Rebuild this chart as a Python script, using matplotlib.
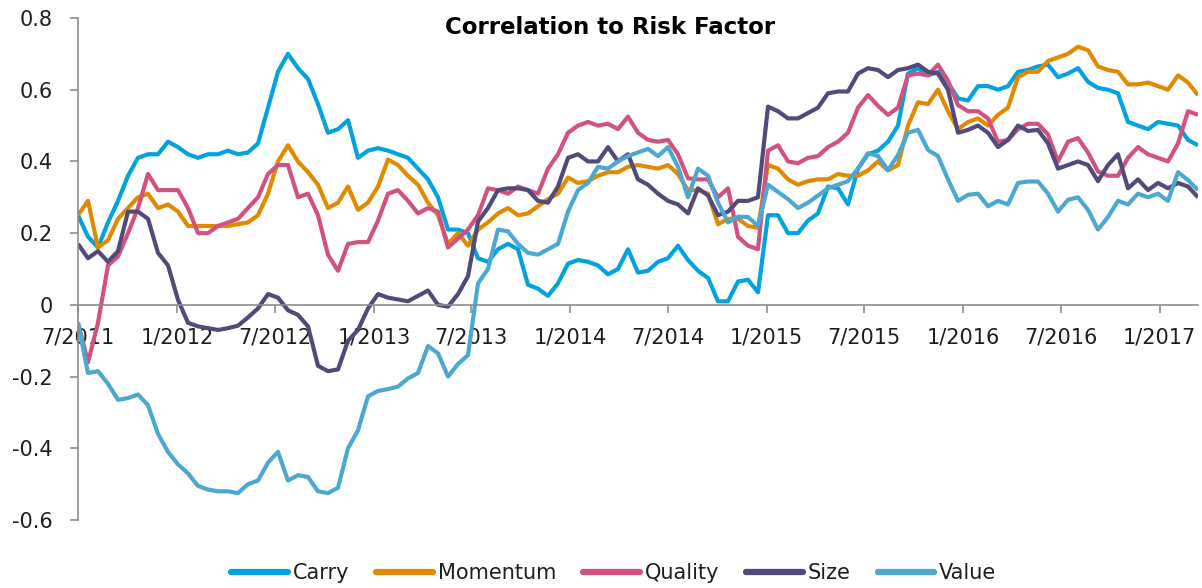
import numpy as np
import pandas as pd
import matplotlib
matplotlib.use("Agg")
import matplotlib.pyplot as plt
import matplotlib.dates as mdates
from matplotlib.ticker import FuncFormatter, FixedLocator

plt.rcParams['axes.unicode_minus'] = False
plt.rcParams['font.family'] = ['DejaVu Sans']

# ---- data ----
start_date = "2011-07-01"
end_date = "2017-03-13"

carry = [0.25, 0.19, 0.16, 0.23, 0.29, 0.36, 0.41, 0.42, 0.42, 0.455,
         0.44, 0.42, 0.41, 0.42, 0.42, 0.43, 0.42, 0.425, 0.45, 0.55,
         0.65, 0.70, 0.66, 0.63, 0.56, 0.48, 0.49, 0.515, 0.41, 0.43,
         0.437, 0.43, 0.42, 0.41, 0.38, 0.35, 0.30, 0.21, 0.21, 0.20,
         0.13, 0.12, 0.155, 0.17, 0.155, 0.056, 0.045, 0.025, 0.06, 0.115,
         0.125, 0.12, 0.11, 0.085, 0.10, 0.155, 0.09, 0.095, 0.12, 0.13,
         0.165, 0.125, 0.095, 0.075, 0.01, 0.01, 0.065, 0.07, 0.035, 0.25,
         0.25, 0.20, 0.20, 0.235, 0.255, 0.33, 0.325, 0.28, 0.38, 0.42,
         0.43, 0.455, 0.50, 0.645, 0.66, 0.64, 0.65, 0.62, 0.576, 0.57,
         0.61, 0.61, 0.60, 0.61, 0.65, 0.655, 0.665, 0.67, 0.635, 0.645,
         0.66, 0.622, 0.605, 0.60, 0.59, 0.51, 0.50, 0.49, 0.51, 0.505,
         0.50, 0.46, 0.445]

momentum = [0.25, 0.29, 0.16, 0.18, 0.24, 0.27, 0.30, 0.31, 0.27, 0.28,
            0.26, 0.22, 0.22, 0.22, 0.22, 0.22, 0.225, 0.23, 0.25, 0.31,
            0.40, 0.445, 0.40, 0.37, 0.335, 0.27, 0.285, 0.33, 0.265, 0.285,
            0.33, 0.405, 0.39, 0.36, 0.335, 0.285, 0.25, 0.17, 0.20, 0.165,
            0.21, 0.23, 0.255, 0.27, 0.25, 0.255, 0.275, 0.295, 0.31, 0.355,
            0.34, 0.345, 0.36, 0.37, 0.37, 0.385, 0.39, 0.385, 0.38, 0.39,
            0.365, 0.32, 0.32, 0.31, 0.225, 0.24, 0.24, 0.22, 0.215, 0.39,
            0.38, 0.35, 0.335, 0.345, 0.35, 0.35, 0.365, 0.36, 0.36, 0.375,
            0.40, 0.375, 0.39, 0.50, 0.565, 0.56, 0.60, 0.54, 0.49, 0.51,
            0.52, 0.50, 0.53, 0.55, 0.635, 0.65, 0.65, 0.68, 0.69, 0.70,
            0.72, 0.71, 0.665, 0.655, 0.65, 0.615, 0.615, 0.62, 0.61, 0.60,
            0.64, 0.62, 0.585]

quality = [-0.05, -0.16, -0.05, 0.11, 0.135, 0.20, 0.27, 0.365, 0.32, 0.32,
           0.32, 0.27, 0.20, 0.20, 0.22, 0.23, 0.24, 0.27, 0.30, 0.365,
           0.39, 0.39, 0.30, 0.31, 0.25, 0.14, 0.095, 0.17, 0.175, 0.175,
           0.235, 0.31, 0.32, 0.29, 0.255, 0.27, 0.26, 0.16, 0.185, 0.21,
           0.25, 0.325, 0.32, 0.31, 0.33, 0.32, 0.31, 0.38, 0.42, 0.48,
           0.50, 0.51, 0.50, 0.505, 0.49, 0.525, 0.48, 0.46, 0.455, 0.46,
           0.42, 0.353, 0.35, 0.35, 0.30, 0.325, 0.19, 0.165, 0.155, 0.43,
           0.445, 0.40, 0.395, 0.41, 0.415, 0.44, 0.455, 0.48, 0.55, 0.585,
           0.555, 0.53, 0.55, 0.64, 0.645, 0.64, 0.67, 0.625, 0.557, 0.54,
           0.54, 0.52, 0.455, 0.46, 0.49, 0.505, 0.505, 0.475, 0.40, 0.455,
           0.465, 0.425, 0.372, 0.36, 0.36, 0.41, 0.44, 0.42, 0.41, 0.40,
           0.45, 0.54, 0.53]

size = [0.17, 0.13, 0.15, 0.12, 0.15, 0.26, 0.26, 0.24, 0.145, 0.11,
        0.014, -0.05, -0.06, -0.065, -0.07, -0.065, -0.058, -0.035, -0.01, 0.03,
        0.02, -0.015, -0.028, -0.06, -0.17, -0.185, -0.18, -0.10, -0.07, -0.01,
        0.03, 0.02, 0.015, 0.01, 0.025, 0.04, 0.0, -0.005, 0.03, 0.08,
        0.232, 0.27, 0.32, 0.325, 0.325, 0.32, 0.29, 0.285, 0.33, 0.41,
        0.42, 0.40, 0.40, 0.44, 0.40, 0.42, 0.35, 0.335, 0.31, 0.29,
        0.28, 0.255, 0.325, 0.305, 0.25, 0.26, 0.29, 0.29, 0.30, 0.553,
        0.54, 0.52, 0.52, 0.535, 0.55, 0.59, 0.595, 0.595, 0.645, 0.66,
        0.655, 0.635, 0.655, 0.66, 0.67, 0.65, 0.645, 0.60, 0.48, 0.488,
        0.50, 0.48, 0.44, 0.46, 0.50, 0.485, 0.488, 0.45, 0.38, 0.39,
        0.40, 0.39, 0.345, 0.39, 0.42, 0.325, 0.35, 0.32, 0.34, 0.325,
        0.34, 0.33, 0.30]

value = [-0.05, -0.19, -0.185, -0.22, -0.265, -0.26, -0.25, -0.28, -0.36, -0.41,
         -0.445, -0.47, -0.505, -0.515, -0.52, -0.52, -0.525, -0.50, -0.49, -0.44,
         -0.41, -0.49, -0.475, -0.48, -0.52, -0.525, -0.51, -0.40, -0.35, -0.255,
         -0.24, -0.235, -0.228, -0.205, -0.19, -0.115, -0.135, -0.20, -0.165, -0.14,
         0.06, 0.10, 0.21, 0.205, 0.17, 0.145, 0.14, 0.155, 0.17, 0.26,
         0.32, 0.34, 0.385, 0.38, 0.40, 0.415, 0.425, 0.435, 0.415, 0.44,
         0.385, 0.30, 0.38, 0.36, 0.285, 0.23, 0.246, 0.245, 0.22, 0.335,
         0.315, 0.295, 0.27, 0.285, 0.305, 0.325, 0.335, 0.345, 0.38, 0.423,
         0.415, 0.376, 0.418, 0.48, 0.488, 0.432, 0.415, 0.35, 0.29, 0.307,
         0.31, 0.275, 0.29, 0.28, 0.34, 0.344, 0.344, 0.31, 0.26, 0.293,
         0.30, 0.265, 0.21, 0.245, 0.29, 0.28, 0.31, 0.30, 0.31, 0.29,
         0.37, 0.348, 0.32]

series_names = ["Carry", "Momentum", "Quality", "Size", "Value"]
series_colors = ["#00A3E0", "#E08A00", "#D2527F", "#524A7A", "#4BA8D1"]

x_tick_dates = ["2011-07-01", "2012-01-01", "2012-07-01", "2013-01-01", "2013-07-01",
                "2014-01-01", "2014-07-01", "2015-01-01", "2015-07-01", "2016-01-01",
                "2016-07-01", "2017-01-01"]
x_tick_labels = ["7/2011", "1/2012", "7/2012", "1/2013", "7/2013", "1/2014",
                 "7/2014", "1/2015", "7/2015", "1/2016", "7/2016", "1/2017"]
y_ticks = [-0.6, -0.4, -0.2, 0.0, 0.2, 0.4, 0.6, 0.8]

# ---- figure ----
W, H = 1202, 588
fig = plt.figure(figsize=(W / 100, H / 100), dpi=100)
ax = fig.add_axes([78 / W, 1 - 520 / H, (1198 - 78) / W, (520 - 18) / H])

all_series = [carry, momentum, quality, size, value]
n = len(carry)
dates = pd.date_range(start_date, end_date, periods=n)

lines = []
for name, col, vals in zip(series_names, series_colors, all_series):
    ln, = ax.plot(dates[:len(vals)], vals, color=col, lw=3.0, label=name,
                  solid_joinstyle='round', solid_capstyle='butt')
    lines.append(ln)

ax.set_xlim(pd.Timestamp(start_date), pd.Timestamp(end_date))
ax.set_ylim(-0.6, 0.8)

text_col = "#1e1e1e"
spine_col = "#8c8c8c"

for s in ["top", "right"]:
    ax.spines[s].set_visible(False)
ax.spines["left"].set_color(spine_col)
ax.spines["left"].set_linewidth(1.2)
ax.spines["bottom"].set_position(("data", 0))
ax.spines["bottom"].set_color(spine_col)
ax.spines["bottom"].set_linewidth(1.2)

ax.xaxis.set_major_locator(FixedLocator(mdates.date2num(pd.to_datetime(x_tick_dates))))
ax.set_xticklabels(x_tick_labels)
ax.yaxis.set_major_locator(FixedLocator(y_ticks))
ax.yaxis.set_major_formatter(FuncFormatter(lambda v, p: "0" if abs(v) < 1e-9 else f"{v:.1f}"))

ax.tick_params(axis="x", direction="out", length=6, width=1.2, color=spine_col,
               labelsize=15, labelcolor=text_col, pad=10)
ax.tick_params(axis="y", direction="out", length=6, width=1.2, color=spine_col,
               labelsize=15, labelcolor=text_col, pad=12)

fig.text(610 / W, 1 - 28 / H, "Correlation to Risk Factor", ha="center", va="center",
         fontsize=16.5, fontweight="bold", color="#000000")

leg = fig.legend(handles=lines, labels=series_names, loc="center",
                 bbox_to_anchor=(614 / W, 1 - 573 / H), ncol=5, frameon=False,
                 fontsize=15, handlelength=2.7, handletextpad=0.25,
                 columnspacing=1.3, labelcolor=text_col)
for h in leg.legend_handles:
    h.set_linewidth(4.5)
    h.set_solid_capstyle('round')

fig.savefig("out.png", dpi=100)
